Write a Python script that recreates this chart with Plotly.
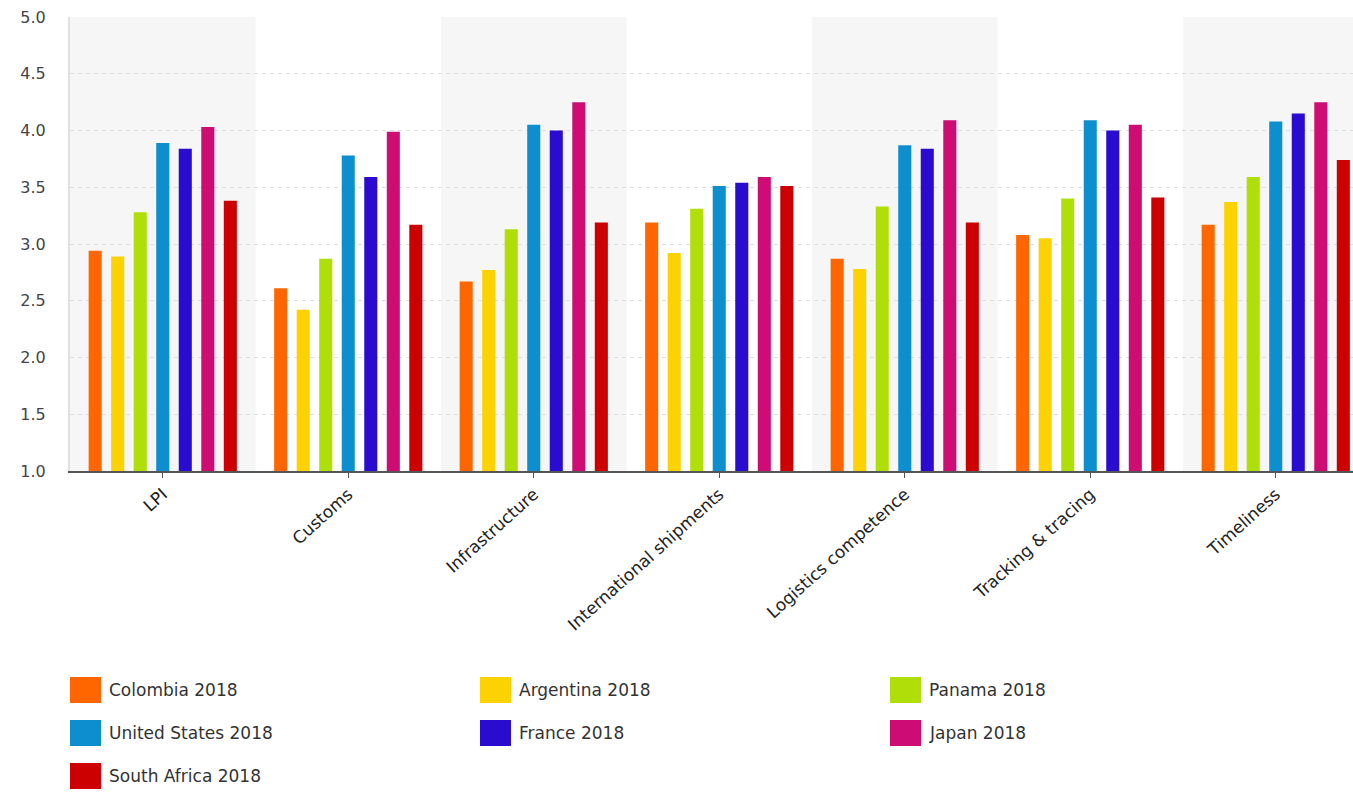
import plotly.graph_objects as go

# Logistics Performance Index 2018, scores by dimension
categories = ["LPI", "Customs", "Infrastructure", "International shipments",
              "Logistics competence", "Tracking & tracing", "Timeliness"]

colombia = [2.94, 2.61, 2.67, 3.19, 2.87, 3.08, 3.17]
argentina = [2.89, 2.42, 2.77, 2.92, 2.78, 3.05, 3.37]
panama = [3.28, 2.87, 3.13, 3.31, 3.33, 3.40, 3.59]
united_states = [3.89, 3.78, 4.05, 3.51, 3.87, 4.09, 4.08]
france = [3.84, 3.59, 4.00, 3.54, 3.84, 4.00, 4.15]
japan = [4.03, 3.99, 4.25, 3.59, 4.09, 4.05, 4.25]
south_africa = [3.38, 3.17, 3.19, 3.51, 3.19, 3.41, 3.74]

series_names = ["Colombia 2018", "Argentina 2018", "Panama 2018",
                "United States 2018", "France 2018", "Japan 2018",
                "South Africa 2018"]
series_values = [colombia, argentina, panama, united_states, france, japan,
                 south_africa]
series_colors = ["#FF6600", "#FCD202", "#B0DE09", "#0D8ECF", "#2A0CD0",
                 "#CD0D74", "#CC0000"]

y_ticks = [1.0, 1.5, 2.0, 2.5, 3.0, 3.5, 4.0, 4.5, 5.0]

W, H = 1353, 793
L, T, B = 70, 17, 322
plot_w = W - L
plot_h = H - T - B
cat_px = 185.5  # width of one category band in pixels

fig = go.Figure()
for name, vals, col in zip(series_names, series_values, series_colors):
    fig.add_trace(go.Bar(
        x=list(range(len(categories))), y=vals, name=name,
        marker=dict(color=col, line=dict(width=0)),
        showlegend=False,
    ))

shapes = []
# alternating category bands
for i in range(0, len(categories), 2):
    shapes.append(dict(type="rect", xref="x", yref="paper",
                       x0=i - 0.5, x1=i + 0.5, y0=0, y1=1,
                       fillcolor="#f6f6f6", line=dict(width=0), layer="below"))


def px_to_paper_x(px):
    return (px - L) / plot_w


def px_to_paper_y(py):
    return (H - B - py) / plot_h


# legend: large square swatches laid out in three columns
annotations = []
col_x = [70, 480, 890]
row_y = [690, 733, 776]
for i, (name, col) in enumerate(zip(series_names, series_colors)):
    cx = col_x[i % 3]
    cy = row_y[i // 3]
    shapes.append(dict(type="rect", xref="paper", yref="paper",
                       x0=px_to_paper_x(cx), x1=px_to_paper_x(cx + 31),
                       y0=px_to_paper_y(cy + 13), y1=px_to_paper_y(cy - 13),
                       fillcolor=col, line=dict(width=0)))
    annotations.append(dict(xref="paper", yref="paper",
                            x=px_to_paper_x(cx + 37), y=px_to_paper_y(cy),
                            xanchor="left", yanchor="middle", showarrow=False,
                            text=name,
                            font=dict(family="DejaVu Sans", size=17,
                                      color="#333333")))

fig.update_layout(
    width=W, height=H,
    margin=dict(l=L, r=0, t=T, b=B, pad=0),
    paper_bgcolor="white", plot_bgcolor="white",
    barmode="group", bargap=0.15, bargroupgap=0.42,
    shapes=shapes, annotations=annotations,
    showlegend=False,
    font=dict(family="DejaVu Sans", color="#333333"),
)

fig.update_xaxes(
    tickmode="array", tickvals=list(range(len(categories))),
    ticktext=categories, tickangle=-42,
    range=[-0.5, -0.5 + plot_w / cat_px],
    showgrid=False, zeroline=False,
    showline=True, linecolor="#555555", linewidth=1.5,
    ticks="outside", ticklen=5, tickcolor="#555555",
    tickfont=dict(family="DejaVu Sans", size=17, color="#222222"),
)

fig.update_yaxes(
    range=[1.0, 5.0], tickmode="array", tickvals=y_ticks,
    ticktext=[f"{v:.1f}" for v in y_ticks],
    showgrid=True, gridcolor="#dddddd", griddash="4px,4px", gridwidth=1,
    zeroline=False, showline=True, linecolor="#e0e0e0", linewidth=2,
    ticks="", ticklabelstandoff=19,
    tickfont=dict(family="DejaVu Sans", size=16, color="#444444"),
)

fig.write_html("out.html")
